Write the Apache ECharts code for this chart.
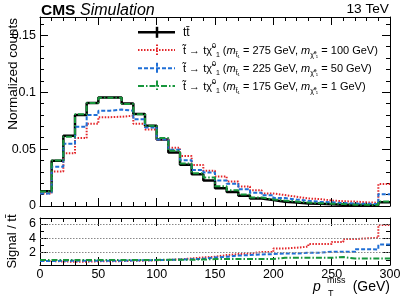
<!DOCTYPE html>
<html><head><meta charset="utf-8">
<script src="https://cdn.jsdelivr.net/npm/echarts@6/dist/echarts.min.js"></script>
<style>html,body{margin:0;padding:0;background:#fff}#c{width:407px;height:299px}</style>
</head><body><div id="c"></div>
<script>
// ---- data ----
const binEdges = [0,10,20,30,40,50,60,70,80,90,100,110,120,130,140,150,160,170,180,190,200,210,220,230,240,250,260,270,280,290,300];
const ttbar = [0.0130,0.0397,0.0618,0.0800,0.0905,0.0952,0.0952,0.0900,0.0808,0.0704,0.0584,0.0470,0.0362,0.0278,0.0224,0.0155,0.0123,0.0089,0.0066,0.0052,0.0037,0.0030,0.0023,0.0019,0.0015,0.0012,0.0010,0.0008,0.0007,0.0033];
const sig275 = [0.0110,0.0304,0.0463,0.0597,0.0722,0.0780,0.0784,0.0793,0.0722,0.0672,0.0584,0.0511,0.0440,0.0360,0.0310,0.0259,0.0215,0.0172,0.0139,0.0110,0.0096,0.0081,0.0066,0.0061,0.0048,0.0042,0.0039,0.0032,0.0029,0.0193];
const sig225 = [0.0110,0.0345,0.0546,0.0696,0.0799,0.0837,0.0847,0.0836,0.0761,0.0690,0.0584,0.0494,0.0402,0.0316,0.0295,0.0223,0.0195,0.0148,0.0117,0.0094,0.0070,0.0057,0.0046,0.0038,0.0032,0.0026,0.0021,0.0020,0.0017,0.0104];
const sig175 = [0.0128,0.0400,0.0608,0.0805,0.0905,0.0950,0.0950,0.0895,0.0805,0.0705,0.0598,0.0485,0.0373,0.0287,0.0250,0.0173,0.0138,0.0100,0.0074,0.0058,0.0048,0.0039,0.0030,0.0025,0.0020,0.0017,0.0012,0.0010,0.0008,0.0040];
const ratio275 = [0.85,0.77,0.75,0.75,0.80,0.82,0.83,0.88,0.90,0.95,1.00,1.08,1.20,1.35,1.44,1.67,1.81,1.90,2.10,2.10,2.60,2.70,2.85,3.20,3.20,3.50,3.90,4.00,4.10,5.85];
const ratio225 = [0.85,0.87,0.88,0.87,0.88,0.88,0.89,0.93,0.94,0.98,1.00,1.05,1.10,1.15,1.35,1.44,1.60,1.67,1.77,1.81,1.90,1.90,2.00,2.00,2.14,2.14,2.14,2.50,2.45,3.15];
const ratio175 = [0.98,1.00,0.98,1.00,1.00,1.00,1.00,0.99,1.00,1.00,1.03,1.03,1.03,1.05,1.12,1.12,1.12,1.12,1.12,1.12,1.30,1.30,1.30,1.30,1.30,1.40,1.20,1.20,1.20,1.20];
const topMajorTicks = [0,0.05,0.1,0.15];
const topMinorTicks = [0.01,0.02,0.03,0.04,0.06,0.07,0.08,0.09,0.11,0.12,0.13,0.14,0.16];
const ratioMajorTicks = [2,4,6];
const ratioMinorTicks = [1,3,5];
const ratioGridLines = [2,4,6];

const F = 'Liberation Sans, Arial, Helvetica, sans-serif';
const RED = '#e3262a', BLUE = '#1f6fd6', GREEN = '#17963c';

function steps(vals){ return binEdges.map((e,i)=>[e, vals[Math.min(i, vals.length-1)]]); }

function xAx(grid, pos, labels){
  return {type:'value', gridIndex:grid, position:pos, min:0, max:300, interval:50,
    axisLine:{show:true, onZero:false, lineStyle:{color:'#000', width:1}},
    axisTick:{show:true, inside:true, length:8, lineStyle:{color:'#000'}},
    minorTick:{show:true, splitNumber:5, length:4, lineStyle:{color:'#000'}},
    splitLine:{show:false}, minorSplitLine:{show:false},
    axisLabel:{show:labels, margin:3, fontSize:12.5, fontFamily:F, color:'#000', showMinLabel:true, showMaxLabel:true, hideOverlap:false}};
}
function yAx(grid, pos, min, max, ticks, len, labels, line){
  return {type:'value', gridIndex:grid, position:pos, min:min, max:max,
    axisLine:{show:line, onZero:false, lineStyle:{color:'#000', width:1}},
    axisTick:{show:true, inside:true, length:len, customValues:ticks, lineStyle:{color:'#000'}},
    splitLine:{show:false},
    axisLabel:{show:labels, customValues:ticks, margin:4, fontSize:12.5, fontFamily:F, color:'#000', hideOverlap:false}};
}

const topMax = 0.166, rMin = 0.29, rMax = 6.84;

function lineSeries(name, vals, xi, yi, color, width, dash, extra){
  return Object.assign({name, type:'line', xAxisIndex:xi, yAxisIndex:yi, step:'end', symbol:'none', silent:true,
    lineStyle:{color, width, type:dash}, data:steps(vals)}, extra||{});
}

const rich = {
  n:{fontSize:11, fontFamily:F, fill:'#000', lineHeight:16},
  i:{fontSize:11, fontFamily:F, fontStyle:'italic', fill:'#000', lineHeight:16},
  s:{fontSize:7, fontFamily:F, fill:'#000', verticalAlign:'bottom', lineHeight:8},
  p:{fontSize:7, fontFamily:F, fill:'#000', verticalAlign:'top', lineHeight:8}
};
function sigText(mst, mchi){
  return '{n|t\u0303 \u2192 t\u03c7\u0303}{p|0}{s|1}{n| (}{i|m}{s|t\u0303\u2081}{n| = '+mst+' GeV, }{i|m}{s|\u03c7\u0303\u2070\u2081}{n| = '+mchi+' GeV)}';
}
function legRow(y, color, dash, width, label, isRich){
  return [
    {type:'line', shape:{x1:138,y1:y,x2:175,y2:y}, style:{stroke:color, lineWidth:width, lineDash:dash}, silent:true},
    {type:'line', shape:{x1:157,y1:y-5.5,x2:157,y2:y+5.5}, style:{stroke:color, lineWidth:width, lineDash:dash}, silent:true},
    {type:'text', x:183, y:y+0.5, silent:true, style:{text:label, rich:isRich?rich:undefined, fontSize:12, fontFamily:F, fill:'#000', align:'left', verticalAlign:'middle'}}
  ];
}

const chart = echarts.init(document.getElementById('c'), null, {renderer:'canvas'});
chart.setOption({
  animation:false,
  backgroundColor:'#fff',
  grid:[
    {left:40, right:17, top:17, height:189},
    {left:40, right:17, top:218, height:47}
  ],
  xAxis:[ xAx(0,'bottom',false), xAx(0,'top',false), xAx(1,'bottom',true), xAx(1,'top',false) ],
  yAxis:[
    yAx(0,'left',0,topMax,topMajorTicks,8,true,true),
    yAx(0,'left',0,topMax,topMinorTicks,4,false,false),
    yAx(0,'right',0,topMax,topMajorTicks,8,false,true),
    yAx(0,'right',0,topMax,topMinorTicks,4,false,false),
    yAx(1,'left',rMin,rMax,ratioMajorTicks,8,true,true),
    yAx(1,'left',rMin,rMax,ratioMinorTicks,4,false,false),
    yAx(1,'right',rMin,rMax,ratioMajorTicks,8,false,true),
    yAx(1,'right',rMin,rMax,ratioMinorTicks,4,false,false)
  ],
  series:[
    lineSeries('ttbar', ttbar, 0, 0, '#000', 2.5, 'solid'),
    lineSeries('s275', sig275, 0, 0, RED, 2, [1.5,1.5]),
    lineSeries('s225', sig225, 0, 0, BLUE, 2, [4,2]),
    lineSeries('s175', sig175, 0, 0, GREEN, 2, [6,2,1.5,2]),
    lineSeries('r275', ratio275, 2, 4, RED, 2, [1.5,1.5], {markLine:{silent:true, symbol:['none','none'], label:{show:false},
      lineStyle:{color:'#888', width:1, type:[1.5,1.5]}, data:ratioGridLines.map(v=>({yAxis:v}))}, z:1}),
    lineSeries('r225', ratio225, 2, 4, BLUE, 2, [4,2]),
    lineSeries('r175', ratio175, 2, 4, GREEN, 2, [6,2,1.5,2])
  ],
  graphic:[
    {type:'text', x:41, y:10.5, silent:true, style:{text:'CMS', fontSize:15.5, fontWeight:'bold', fontFamily:F, fill:'#000', align:'left', verticalAlign:'middle'}},
    {type:'text', x:80, y:10.5, silent:true, style:{text:'Simulation', fontSize:16, fontStyle:'italic', fontFamily:F, fill:'#000', align:'left', verticalAlign:'middle'}},
    {type:'text', x:389, y:9.5, silent:true, style:{text:'13 TeV', fontSize:13.7, fontFamily:F, fill:'#000', align:'right', verticalAlign:'middle'}},
    {type:'text', x:13, y:18, rotation:Math.PI/2, silent:true, style:{text:'Normalized counts', fontSize:13.5, fontFamily:F, fill:'#000', align:'right', verticalAlign:'middle'}},
    {type:'text', x:12, y:241.5, rotation:Math.PI/2, silent:true, style:{text:'Signal / tt\u0304', fontSize:13, fontFamily:F, fill:'#000', align:'center', verticalAlign:'middle'}},
    {type:'text', x:313, y:287, silent:true, style:{text:'p', fontSize:14, fontStyle:'italic', fontFamily:F, fill:'#000', align:'left', verticalAlign:'middle'}},
    {type:'text', x:327, y:281, silent:true, style:{text:'miss', fontSize:9, fontFamily:F, fill:'#000', align:'left', verticalAlign:'middle'}},
    {type:'text', x:328, y:293.5, silent:true, style:{text:'T', fontSize:9, fontFamily:F, fill:'#000', align:'left', verticalAlign:'middle'}},
    {type:'text', x:390, y:287, silent:true, style:{text:'(GeV)', fontSize:14, fontFamily:F, fill:'#000', align:'right', verticalAlign:'middle'}},
    ...legRow(32.3, '#000', null, 2.5, 'tt\u0304', false),
    ...legRow(50, RED, [1.5,1.5], 2, sigText(275,100), true),
    ...legRow(68.3, BLUE, [4,2], 2, sigText(225,50), true),
    ...legRow(86, GREEN, [6,2,1.5,2], 2, sigText(175,1), true)
  ]
});
</script></body></html>
